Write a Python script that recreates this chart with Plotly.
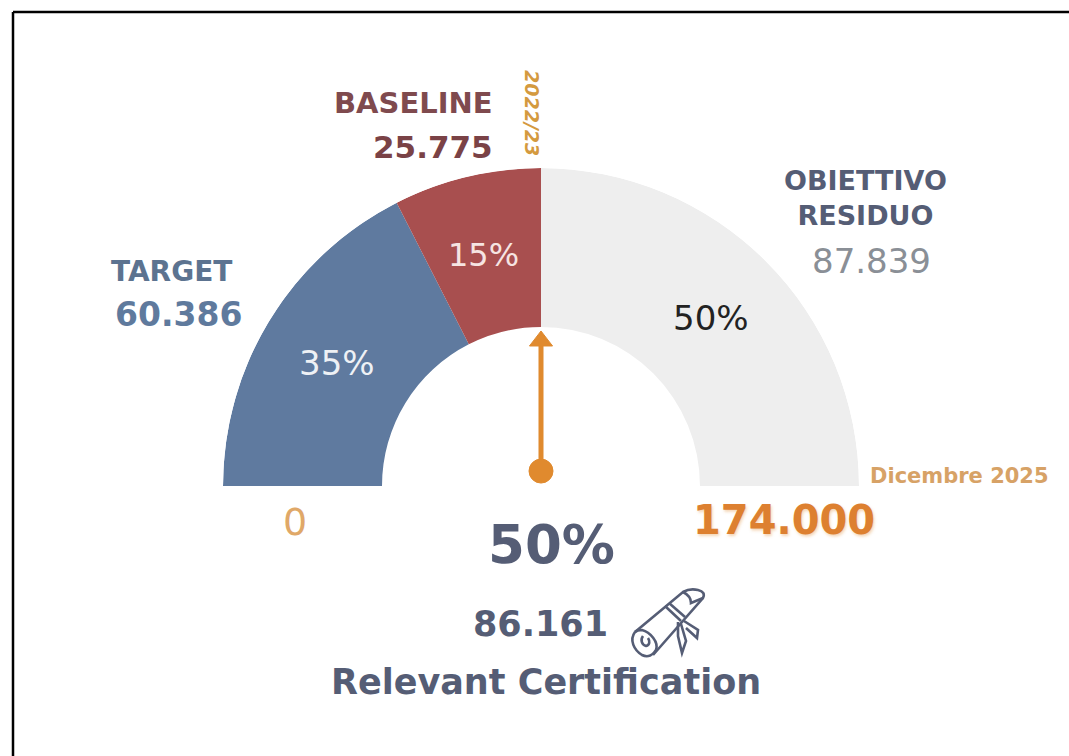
import numpy as np
import plotly.graph_objects as go

# ---- data ----
categories = ["TARGET", "BASELINE", "OBIETTIVO RESIDUO"]
percents = [35, 15, 50]
amounts = ["60.386", "25.775", "87.839"]
percent_labels = ["35%", "15%", "50%"]
slice_colors = ["#5f7a9f", "#a84f4f", "#eeeeee"]
percent_colors = ["#eef1f5", "#f6e4e2", "#222222"]
scale_start = "0"
scale_end = "174.000"
period_start = "2022/23"
period_end = "Dicembre 2025"
achieved_pct = 50
achieved_label = "50%"
achieved_amount = "86.161"
achieved_name = "Relevant Certification"

FONT = "DejaVu Sans"
SLATE = "#555d75"
ORANGE = "#e08a2e"
W, H = 1069, 756

edges = np.cumsum([0] + percents) * 180 / sum(percents)
widths = np.diff(edges)
centers = edges[:-1] + widths / 2
HOLE = 0.5

fig = go.Figure()
fig.add_trace(go.Barpolar(
    r=[1 - HOLE] * 3, base=[HOLE] * 3, theta=centers, width=widths,
    marker=dict(color=slice_colors, line=dict(width=0)),
    hoverinfo="skip", showlegend=False, subplot="polar"))

# arrow pointing at the achieved share of the scale
arrow_theta = achieved_pct / 100 * 180
fig.add_trace(go.Scatterpolar(
    r=[0.047, 0.456], theta=[arrow_theta, arrow_theta], mode="lines+markers",
    line=dict(color=ORANGE, width=5),
    marker=dict(symbol=["circle", "triangle-up"], size=[24, 20], sizemode="diameter",
                opacity=1, color=ORANGE, line=dict(width=1, color=ORANGE)),
    hoverinfo="skip", showlegend=False, subplot="polar"))

# empty cartesian trace: gives a page-sized axis pair for text and icon placement
fig.add_trace(go.Scatter(x=[], y=[], showlegend=False, hoverinfo="skip"))


def text(s, x, y, size, color, bold=True, anchor="center", angle=0, italic=False, shadow=None):
    font = dict(family=FONT, size=size, color=color, weight=700 if bold else 400,
                style="italic" if italic else "normal")
    if shadow:
        font["shadow"] = shadow
    fig.add_annotation(x=x, y=y, xref="x", yref="y", text=s, showarrow=False,
                       xanchor=anchor, yanchor="middle", textangle=angle, font=font)


text(categories[1], 495, 103, 29, "#7f4a4e", anchor="right")
text(amounts[1], 495, 147, 31, "#7a4246", anchor="right")
text(period_start, 532, 113, 19, "#d49a3f", angle=90, italic=True)
text(categories[0], 171, 271, 28, "#5c7390")
text(amounts[0], 178, 314, 33, "#5f7a9d")
text(categories[2].replace(" ", "<br>"), 865, 198, 27, SLATE)
text(amounts[2], 871, 261, 34, "#8a8f96", bold=False)
text(percent_labels[1], 483, 255, 32, percent_colors[1], bold=False)
text(percent_labels[0], 337, 363, 34, percent_colors[0], bold=False)
text(percent_labels[2], 711, 318, 34, percent_colors[2], bold=False)
text(period_end, 959, 476, 21, "#d7a266")
text(scale_start, 295, 522, 38, "#e0a868", bold=False)
text(scale_end, 784, 520, 40, "#dd8030", shadow="1px 2px 3px rgba(224,138,46,0.35)")
text(achieved_label, 551, 544, 53, SLATE)
text(achieved_amount, 540, 624, 35, SLATE)
text(achieved_name, 546, 682, 35, SLATE)

# frame (left and top edges only)
frame = dict(color="#000000", width=2.5)
shapes = [
    dict(type="line", xref="x", yref="y", x0=13, y0=12, x1=W, y1=12, line=frame),
    dict(type="line", xref="x", yref="y", x0=13, y0=12, x1=13, y1=H, line=frame),
]
# diploma icon
icon = [
    "M635,632 L683,592 Q690,588 698,590 Q706,592 703,598 L653,655",
    "M635,632 C629,640 634,650 642,655 C648,658 653,655 656,650 C659,642 650,632 642,630 C638,630 636,631 635,632",
    "M643,636 C640,640 642,645 646,646 C650,645 650,641 648,638",
    "M683,592 Q691,596 691,603 L703,598",
    "M665,606 L681,621",
    "M669,603 L685,617",
    "M678,622 L678,636 L682,653 L686,641 L681,624",
    "M684,621 L698,630 L697,638 L686,628",
]
for p in icon:
    shapes.append(dict(type="path", xref="x", yref="y", path=p,
                       line=dict(color=SLATE, width=2.6), fillcolor="rgba(0,0,0,0)"))

fig.update_layout(
    width=W, height=H, margin=dict(l=0, r=0, t=0, b=0),
    paper_bgcolor="#ffffff", plot_bgcolor="rgba(0,0,0,0)",
    showlegend=False, shapes=shapes,
    xaxis=dict(range=[0, W], visible=False, domain=[0, 1], fixedrange=True),
    yaxis=dict(range=[H, 0], visible=False, domain=[0, 1], fixedrange=True),
    polar=dict(
        domain=dict(x=[223 / W, 859 / W], y=[(H - 486) / H, (H - 168) / H]),
        sector=[0, 180], hole=0, bgcolor="rgba(0,0,0,0)",
        angularaxis=dict(visible=False, direction="clockwise", rotation=180, thetaunit="degrees"),
        radialaxis=dict(visible=False, range=[0, 1]),
    ),
)
fig.write_html("out.html", config={"displayModeBar": False},
               post_script="document.body.style.margin='0';")
